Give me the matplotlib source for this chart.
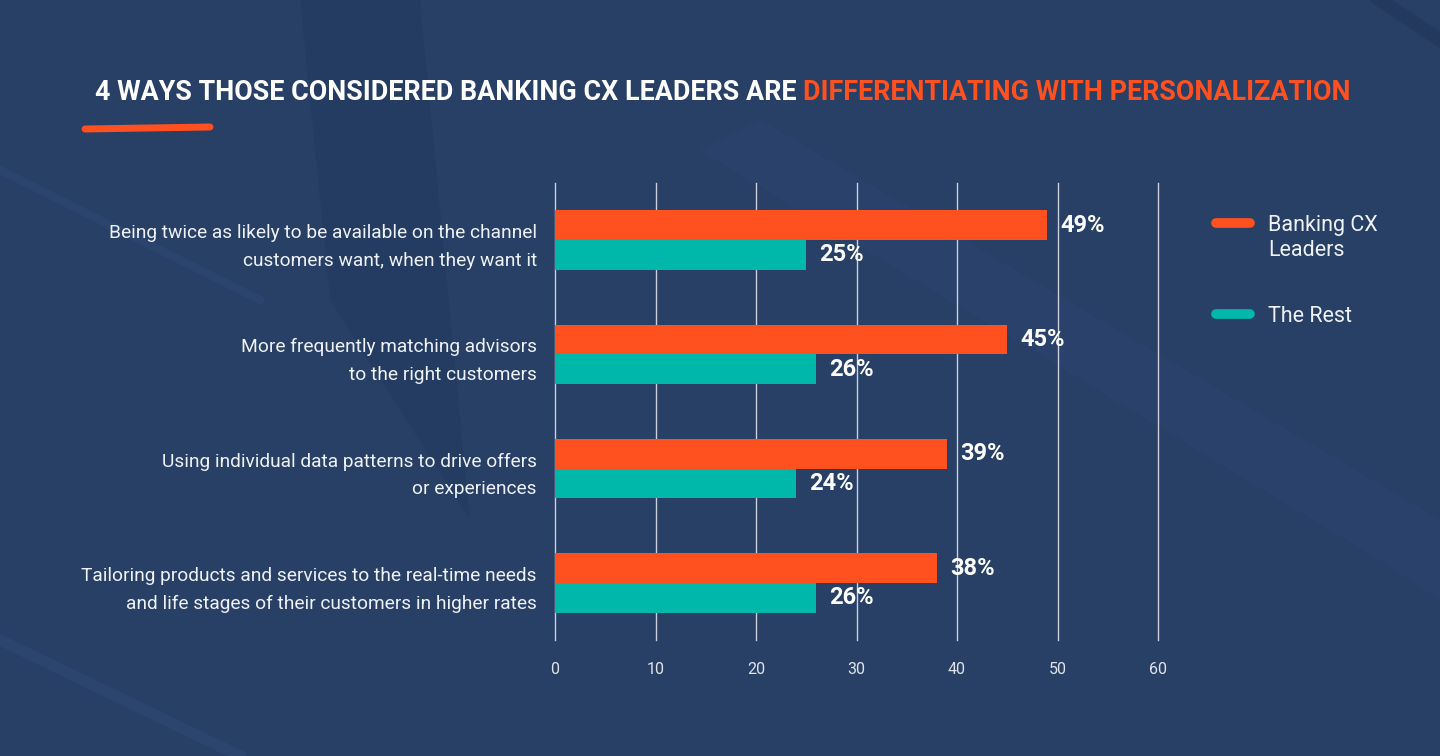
import matplotlib
matplotlib.use("Agg")
import matplotlib.pyplot as plt
import numpy as np
from matplotlib import font_manager
from matplotlib.lines import Line2D

categories = [
    "Being twice as likely to be available on the channel\ncustomers want, when they want it",
    "More frequently matching advisors\nto the right customers",
    "Using individual data patterns to drive offers\nor experiences",
    "Tailoring products and services to the real-time needs\nand life stages of their customers in higher rates",
]
leaders = [49, 45, 39, 38]
rest = [25, 26, 24, 26]
series_names = ["Banking CX\nLeaders", "The Rest"]
x_ticks = [0, 10, 20, 30, 40, 50, 60]

BG = "#283f66"
ORANGE = "#ff5020"
TEAL = "#00b8aa"
TEXT = "#eef1f6"
GRID = "#c9ced8"

installed = {f.name for f in font_manager.fontManager.ttflist}
NARROW = "Liberation Sans Narrow" if "Liberation Sans Narrow" in installed else "Roboto"

fig = plt.figure(figsize=(14.4, 7.56), dpi=100, facecolor=BG)

# faint background swooshes
bg = fig.add_axes([0, 0, 1, 1], zorder=-5)
bg.set_xlim(0, 1440)
bg.set_ylim(756, 0)
bg.axis("off")
bg.fill([700, 760, 1440, 1440, 1380], [150, 120, 520, 600, 560], color="#2c4570", alpha=0.6, lw=0)
bg.fill([300, 420, 470, 330], [0, 0, 520, 300], color="#243a60", alpha=0.5, lw=0)
bg.plot([0, 240], [640, 756], color="#2f4a76", lw=8, alpha=0.6)
bg.plot([0, 260], [170, 300], color="#2f4a76", lw=6, alpha=0.5)
bg.plot([1380, 1440], [0, 40], color="#223659", lw=10, alpha=0.6)

ax = fig.add_axes([555 / 1440, 1 - 640 / 756, 603 / 1440, 457 / 756])
ax.set_facecolor("none")

y = np.arange(len(categories))
h = 0.26
ax.barh(y - h / 2, leaders, height=h, color=ORANGE, zorder=3)
ax.barh(y + h / 2, rest, height=h, color=TEAL, zorder=3)

for yi, v in zip(y - h / 2, leaders):
    ax.text(v + 1.3, yi, f"{v}%", va="center", ha="left", color="white",
            fontsize=17, fontweight="bold", family=NARROW)
for yi, v in zip(y + h / 2, rest):
    ax.text(v + 1.3, yi, f"{v}%", va="center", ha="left", color="white",
            fontsize=17, fontweight="bold", family=NARROW)

ax.set_xlim(0, 60)
ax.set_ylim(3.5, -0.5)
ax.set_xticks(x_ticks)
ax.set_xticklabels([str(t) for t in x_ticks], fontsize=11.5, color="#dfe3ea", family="Roboto")
ax.set_yticks(y)
ax.set_yticklabels(categories, fontsize=13.8, color=TEXT, family="Roboto", linespacing=1.7)
ax.tick_params(axis="both", length=0)
ax.tick_params(axis="x", pad=16)
ax.tick_params(axis="y", pad=13)
ax.grid(axis="x", color=GRID, lw=1, zorder=0)
for gl in ax.get_xgridlines():
    gl.set_clip_on(False)
for s in ax.spines.values():
    s.set_visible(False)

# two-colour title, fitted to the reference width
part1 = "4 WAYS THOSE CONSIDERED BANKING CX LEADERS ARE "
part2 = "DIFFERENTIATING WITH PERSONALIZATION"
fs = 26
renderer = fig.canvas.get_renderer()
t1 = fig.text(95 / 1440, 1 - 93 / 756, part1, color="white", fontsize=fs, fontweight="bold",
              family=NARROW, va="center", ha="left")
t2 = fig.text(0, 1 - 93 / 756, part2, color=ORANGE, fontsize=fs, fontweight="bold",
              family=NARROW, va="center", ha="left")
w = t1.get_window_extent(renderer).width + t2.get_window_extent(renderer).width
fs = fs * 1252 / w
t1.set_fontsize(fs)
t2.set_fontsize(fs)
w1 = t1.get_window_extent(renderer).width
t2.set_x((95 + w1) / 1440)

# orange brush underline
fig.add_artist(Line2D([85 / 1440, 210 / 1440], [1 - 129 / 756, 1 - 127 / 756],
                      color=ORANGE, lw=5, solid_capstyle="round"))

# legend
for (name, col, ly) in [(series_names[0], ORANGE, 223), (series_names[1], TEAL, 314)]:
    fig.add_artist(Line2D([1216 / 1440, 1250 / 1440], [1 - ly / 756, 1 - ly / 756],
                          color=col, lw=7, solid_capstyle="round"))
    fig.text(1268 / 1440, 1 - (ly - 8) / 756, name, color=TEXT, fontsize=15.5,
             family="Roboto", va="top", ha="left", linespacing=1.25)

fig.savefig("out.png", dpi=100, facecolor=BG)
